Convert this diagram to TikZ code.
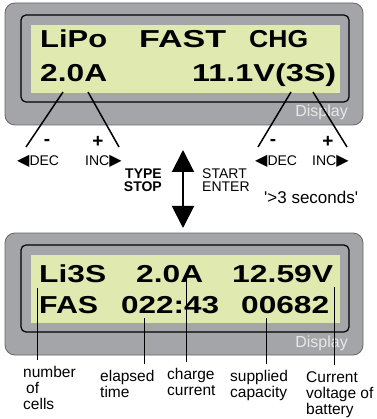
\documentclass[tikz,border=0pt]{standalone}
\usepackage{fontspec}
\setmainfont{Liberation Sans}
\newfontfamily\symfont{DejaVu Sans}
\usepackage{graphicx}
\usepackage{tikz}
\usetikzlibrary{positioning,arrows.meta,calc}
\definecolor{case}{RGB}{163,165,168}
\definecolor{lcdgreen}{RGB}{224,234,176}
\definecolor{faint}{RGB}{232,232,232}
\newcommand{\lcd}[2]{\resizebox{#1}{\height}{\bfseries #2}}
\newcommand{\larr}{{\symfont\fontsize{16}{16}\selectfont◀}}
\newcommand{\rarr}{{\symfont\fontsize{16}{16}\selectfont▶}}
\tikzset{
  lcdtxt/.style={anchor=base west,inner sep=0pt,font=\fontsize{24.5}{24}\selectfont},
  disp/.style={anchor=base east,inner sep=0pt,text=faint,font=\fontsize{16}{16}\selectfont},
  key/.style={inner sep=0pt,font=\fontsize{14}{14}\selectfont},
  sign/.style={inner sep=0pt,font=\fontsize{19}{19}\selectfont\bfseries},
  lbl/.style={anchor=north west,inner sep=0pt,align=left,font=\fontsize{15.5}{16}\selectfont},
  lead/.style={line width=1.5pt},
  tick/.style={line width=0.9pt,shorten >=6pt},
  flow/.style={{Triangle[width=22pt,length=22pt]}-{Triangle[width=22pt,length=22pt]},line width=2pt},
}
\begin{document}
\begin{tikzpicture}[x=1pt,y=-1pt]
  \useasboundingbox (0,0) rectangle (376,419);
  % both display frames
  \foreach \dy in {0,230}{
    \fill[case,draw=black!60,line width=0.8pt,rounded corners=10pt] (5,3+\dy) rectangle (363,125+\dy);
    \draw[line width=1.2pt,rounded corners=5pt] (21,15+\dy) rectangle (349,102+\dy);
    \fill[lcdgreen] (31,25+\dy) rectangle (340,93+\dy);
  }
  \node[disp] (dispA) at (348,117) {Display};
  \node[disp] (dispB) at (348,347) {Display};

  % upper display
  \node[lcdtxt] (lipo) at (40,48) {\lcd{67pt}{LiPo}};
  \node[lcdtxt] (fast) at (139,48) {\lcd{87pt}{FAST}};
  \node[lcdtxt] (chg) at (249,48) {\lcd{59pt}{CHG}};
  \node[lcdtxt] (amps) at (40,82) {\lcd{67pt}{2.0A}};
  \node[lcdtxt] (volt) at (192,82) {\lcd{144pt}{11.1V(3S)}};

  \coordinate (ta) at (63,92);  \coordinate (ea) at (26,147);
  \coordinate (tb) at (88,92);  \coordinate (eb) at (119,147);
  \coordinate (tc) at (291,92); \coordinate (ec) at (258,147);
  \coordinate (td) at (313,92); \coordinate (ed) at (347,147);
  \draw[lead] (ta) -- (ea);
  \draw[lead] (tb) -- (eb);
  \draw[lead] (tc) -- (ec);
  \draw[lead] (td) -- (ed);

  \node[sign] (minusL) at (47,142) {-};
  \node[sign] (plusL) at (98,142) {+};
  \node[sign] (minusR) at (273,142) {-};
  \node[sign] (plusR) at (328,142) {+};
  \node[key,anchor=base west] (decL) at (17,166) {\larr DEC};
  \node[key,anchor=base west] (incL) at (85,166) {INC\rarr};
  \node[key,anchor=base west] (decR) at (255,166) {\larr DEC};
  \node[key,anchor=base west] (incR) at (312,166) {INC\rarr};

  % mode change
  \coordinate (up) at (183,150);
  \coordinate (dn) at (183,228);
  \draw[flow] (up) -- (dn);
  \node[key,anchor=base east,align=right,font=\fontsize{14}{13}\selectfont\bfseries] (stop) at (162,192) {TYPE\\STOP};
  \node[key,anchor=base west,align=left,font=\fontsize{14}{13}\selectfont] (start) at (202,192) {START\\ENTER};
  \node[key,anchor=base west,font=\fontsize{17}{17}\selectfont] (hold) at (264,204) {\textquotesingle>3 seconds\textquotesingle};

  % lower display
  \node[lcdtxt] (cells) at (39,282) {\lcd{67pt}{Li3S}};
  \node[lcdtxt] (amps2) at (136,282) {\lcd{67pt}{2.0A}};
  \node[lcdtxt] (volt2) at (232,282) {\lcd{101pt}{12.59V}};
  \node[lcdtxt] (mode) at (39,313) {\lcd{59pt}{FAS}};
  \node[lcdtxt] (time) at (121,313) {\lcd{98pt}{022:43}};
  \node[lcdtxt] (cap) at (241,313) {\lcd{88pt}{00682}};

  \node[lbl] (lnum) at (23,366) {number\\\hspace*{3pt}of\\cells};
  \node[lbl] (lela) at (100,370) {elapsed\\time};
  \node[lbl] (lchg) at (167,368) {charge\\current};
  \node[lbl] (lsup) at (230,370) {supplied\\capacity};
  \node[lbl] (lvol) at (306,371) {Current\\voltage of\\battery};

  \coordinate (bnum) at (37,288);
  \coordinate (bela) at (144,318);
  \coordinate (bchg) at (186,278);
  \coordinate (bsup) at (266,318);
  \coordinate (bvol) at (334,287);
  \draw[tick] (bnum) -- (bnum |- lnum.north);
  \draw[tick] (bela) -- (bela |- lela.north);
  \draw[tick] (bchg) -- (bchg |- lchg.north);
  \draw[tick] (bsup) -- (bsup |- lsup.north);
  \draw[tick] (bvol) -- (bvol |- lvol.north);
\end{tikzpicture}
\end{document}
